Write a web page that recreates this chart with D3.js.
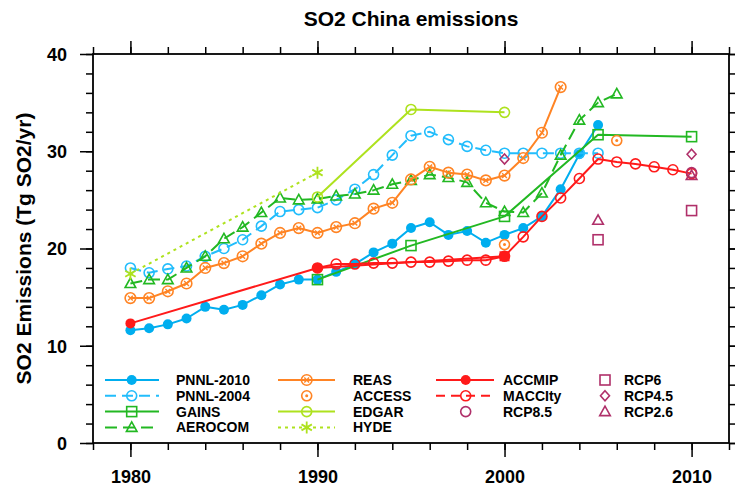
<!DOCTYPE html>
<html><head><meta charset="utf-8">
<script src="https://cdn.jsdelivr.net/npm/d3@7"></script>
<style>
body{margin:0;background:#fff}
svg{display:block}
text{font-family:"Liberation Sans",Arial,Helvetica,sans-serif;font-weight:bold;fill:#000}
</style>
</head><body>
<svg id="c" width="735" height="486"></svg>
<script>
// ---------------- data ----------------
const titleText = "SO2 China emissions";
const yAxisLabel = "SO2 Emissions (Tg SO2/yr)";
const xTickLabels = [1980, 1990, 2000, 2010];
const yTickLabels = [0, 10, 20, 30, 40];

const pnnl2010Years = [1980,1981,1982,1983,1984,1985,1986,1987,1988,1989,1990,1991,1992,1993,1994,1995,1996,1997,1998,1999,2000,2001,2002,2003,2004,2005];
const pnnl2010 = [11.6,11.8,12.2,12.8,14.0,13.7,14.2,15.2,16.3,16.8,16.8,17.6,18.4,19.6,20.5,22.1,22.7,21.4,21.8,20.6,21.4,22.1,23.3,26.1,29.7,32.7];

const pnnl2004Years = [1980,1981,1982,1983,1984,1985,1986,1987,1988,1989,1990,1991,1992,1993,1994,1995,1996,1997,1998,1999,2000,2001,2002,2003,2004,2005];
const pnnl2004 = [18.0,17.5,17.9,18.2,19.2,20.0,20.9,22.3,23.8,24.0,24.2,25.0,26.1,27.6,29.6,31.6,32.0,31.2,30.5,30.1,29.8,29.8,29.8,29.8,29.8,29.8];

const gainsYears = [1990,1995,2000,2005,2010];
const gains = [16.8,20.3,23.3,31.7,31.5];

const aerocomYears = [1980,1981,1982,1983,1984,1985,1986,1987,1988,1989,1990,1991,1992,1993,1994,1995,1996,1997,1998,1999,2000,2001,2002,2003,2004,2005,2006];
const aerocom = [16.4,16.8,16.8,18.0,19.2,21.0,22.2,23.7,25.2,25.0,25.1,25.4,25.6,26.0,26.6,27.0,27.6,27.3,26.8,24.7,23.8,23.7,25.7,29.6,33.2,35.0,35.9];

const reasYears = [1980,1981,1982,1983,1984,1985,1986,1987,1988,1989,1990,1991,1992,1993,1994,1995,1996,1997,1998,1999,2000,2001,2002,2003];
const reas = [14.9,14.9,15.6,16.4,18.0,18.5,19.2,20.5,21.6,22.1,21.6,22.2,22.6,24.1,24.7,27.1,28.4,27.8,27.6,27.0,27.5,29.3,31.9,36.6];

const accessYears = [2000,2006];
const access = [20.4,31.1];

const edgarYears = [1990,1995,2000];
const edgar = [25.3,34.3,34.0];

const hydeYears = [1980,1990];
const hyde = [17.4,27.8];

const accmipYears = [1980,1990,2000];
const accmip = [12.3,18.0,19.2];
const accmipMarkers = ["filledCircle","filledCircle","filledSquare"];

const maccityYears = [1990,1991,1992,1993,1994,1995,1996,1997,1998,1999,2000,2001,2002,2003,2004,2005,2006,2007,2008,2009,2010];
const maccity = [18.0,18.4,18.4,18.5,18.5,18.6,18.6,18.7,18.8,18.8,19.2,21.2,23.3,25.2,27.2,29.2,28.9,28.7,28.4,28.1,27.7];

const rcp85Years = [2010];
const rcp85 = [27.8];
const rcp6Years = [2005,2010];
const rcp6 = [20.9,23.9];
const rcp45Years = [2000,2010];
const rcp45 = [29.2,29.7];
const rcp26Years = [2005,2010];
const rcp26 = [22.9,27.5];

// ---------------- styles ----------------
const cBlue1 = "#00aeef", cBlue2 = "#22bdfc", cGreen = "#22b822", cOrange = "#ff8424",
      cYG = "#aee21e", cRed = "#ff1a1a", cRcp = "#b0306a";

const series = [
  {name:"PNNL-2010", years:pnnl2010Years, values:pnnl2010, color:cBlue1, line:true, dash:null, marker:"filledCircle"},
  {name:"PNNL-2004", years:pnnl2004Years, values:pnnl2004, color:cBlue2, line:true, dash:"11,6", marker:"circle"},
  {name:"GAINS", years:gainsYears, values:gains, color:cGreen, line:true, dash:null, marker:"square"},
  {name:"AEROCOM", years:aerocomYears, values:aerocom, color:cGreen, line:true, dash:"12,6", marker:"triangle"},
  {name:"REAS", years:reasYears, values:reas, color:cOrange, line:true, dash:null, marker:"reas"},
  {name:"ACCESS", years:accessYears, values:access, color:cOrange, line:false, dash:null, marker:"access"},
  {name:"EDGAR", years:edgarYears, values:edgar, color:cYG, line:true, dash:null, marker:"circle"},
  {name:"HYDE", years:hydeYears, values:hyde, color:cYG, line:true, dash:"3,4", marker:"asterisk"},
  {name:"ACCMIP", years:accmipYears, values:accmip, color:cRed, line:true, dash:null, marker:"filledCircle", markers:accmipMarkers},
  {name:"MACCIty", years:maccityYears, values:maccity, color:cRed, line:true, dash:null, legendDash:"9,6", marker:"circle"},
  {name:"RCP8.5", years:rcp85Years, values:rcp85, color:cRcp, line:false, marker:"circle"},
  {name:"RCP6", years:rcp6Years, values:rcp6, color:cRcp, line:false, marker:"square"},
  {name:"RCP4.5", years:rcp45Years, values:rcp45, color:cRcp, line:false, marker:"diamond"},
  {name:"RCP2.6", years:rcp26Years, values:rcp26, color:cRcp, line:false, marker:"triangle"}
];

// ---------------- chart ----------------
const svg = d3.select("#c");
const x = d3.scaleLinear().domain([1978, 2012]).range([93, 729]);
const y = d3.scaleLinear().domain([0, 40]).range([443, 54]);
const X0 = x.range()[0], X1 = x.range()[1], Y0 = y.range()[0], Y1 = y.range()[1];

function styleAxis(g){
  g.select(".domain").remove();
  g.selectAll(".tick line").attr("stroke","#000").attr("stroke-width",1.5);
}
const minorX = d3.range(1978, 2013, 2);
const minorY = d3.range(0, 41, 2);

// bottom
svg.append("g").attr("transform",`translate(0,${Y0})`)
  .call(d3.axisBottom(x).tickValues(minorX).tickSize(7).tickFormat("")).call(styleAxis);
const xb = svg.append("g").attr("transform",`translate(0,${Y0})`)
  .call(d3.axisBottom(x).tickValues(xTickLabels).tickSize(14).tickFormat(d3.format("d"))).call(styleAxis);
xb.selectAll("text").attr("y",40).attr("dy",0).style("font-size","18px").style("font-family",null);
// top
svg.append("g").attr("transform",`translate(0,${Y1})`)
  .call(d3.axisTop(x).tickValues(minorX).tickSize(7).tickFormat("")).call(styleAxis);
svg.append("g").attr("transform",`translate(0,${Y1})`)
  .call(d3.axisTop(x).tickValues(xTickLabels).tickSize(13).tickFormat("")).call(styleAxis);
// left
svg.append("g").attr("transform",`translate(${X0},0)`)
  .call(d3.axisLeft(y).tickValues(minorY).tickSize(7).tickFormat("")).call(styleAxis);
const yl = svg.append("g").attr("transform",`translate(${X0},0)`)
  .call(d3.axisLeft(y).tickValues(yTickLabels).tickSize(13).tickFormat(d3.format("d"))).call(styleAxis);
yl.selectAll("text").attr("x",-26).attr("dy","0.36em").style("font-size","18px").style("font-family",null);
// right
svg.append("g").attr("transform",`translate(${X1},0)`)
  .call(d3.axisRight(y).tickValues(minorY).tickSize(7).tickFormat("")).call(styleAxis);
svg.append("g").attr("transform",`translate(${X1},0)`)
  .call(d3.axisRight(y).tickValues(yTickLabels).tickSize(13).tickFormat("")).call(styleAxis);

// frame
svg.append("rect").attr("x",X0).attr("y",Y1).attr("width",X1-X0).attr("height",Y0-Y1)
  .attr("fill","none").attr("stroke","#000").attr("stroke-width",1.8);

// title & y label
svg.append("text").attr("x",(X0+X1)/2).attr("y",26).attr("text-anchor","middle")
  .style("font-size","21px").text(titleText);
svg.append("text").attr("transform",`translate(31,${(Y0+Y1)/2}) rotate(-90)`).attr("text-anchor","middle")
  .style("font-size","21px").text(yAxisLabel);

// markers
function drawMarker(g, type, cx, cy, color){
  const sw = 1.6;
  if(type==="filledCircle"){
    g.append("circle").attr("cx",cx).attr("cy",cy).attr("r",5).attr("fill",color);
  } else if(type==="circle"){
    g.append("circle").attr("cx",cx).attr("cy",cy).attr("r",5).attr("fill","none").attr("stroke",color).attr("stroke-width",sw);
  } else if(type==="filledSquare"){
    g.append("rect").attr("x",cx-5).attr("y",cy-5).attr("width",10).attr("height",10).attr("fill",color);
  } else if(type==="square"){
    g.append("rect").attr("x",cx-5).attr("y",cy-5).attr("width",10).attr("height",10).attr("fill","none").attr("stroke",color).attr("stroke-width",sw);
  } else if(type==="triangle"){
    g.append("path").attr("d",`M${cx},${cy-5.5}L${cx+5.3},${cy+4}L${cx-5.3},${cy+4}Z`)
      .attr("fill","none").attr("stroke",color).attr("stroke-width",sw);
  } else if(type==="diamond"){
    g.append("path").attr("d",`M${cx},${cy-5}L${cx+4.5},${cy}L${cx},${cy+5}L${cx-4.5},${cy}Z`)
      .attr("fill","none").attr("stroke",color).attr("stroke-width",sw);
  } else if(type==="reas"){
    g.append("circle").attr("cx",cx).attr("cy",cy).attr("r",5.3).attr("fill","none").attr("stroke",color).attr("stroke-width",sw);
    const d=2.4;
    g.append("path").attr("d",`M${cx-d},${cy-d}L${cx+d},${cy+d}M${cx+d},${cy-d}L${cx-d},${cy+d}`)
      .attr("stroke",color).attr("stroke-width",1.4);
  } else if(type==="access"){
    g.append("circle").attr("cx",cx).attr("cy",cy).attr("r",5).attr("fill","none").attr("stroke",color).attr("stroke-width",sw);
    g.append("circle").attr("cx",cx).attr("cy",cy).attr("r",1.5).attr("fill",color);
  } else if(type==="asterisk"){
    const r=6, a=r*Math.cos(Math.PI/6), b=r*Math.sin(Math.PI/6);
    g.append("path").attr("d",`M${cx},${cy-r}L${cx},${cy+r}M${cx-a},${cy-b}L${cx+a},${cy+b}M${cx-a},${cy+b}L${cx+a},${cy-b}`)
      .attr("stroke",color).attr("stroke-width",1.8);
  }
}

const plot = svg.append("g");
const lineGen = d3.line().x(d=>x(d[0])).y(d=>y(d[1]));
series.forEach(s=>{
  const g = plot.append("g");
  const pts = s.years.map((yr,i)=>[yr, s.values[i]]);
  if(s.line){
    g.append("path").attr("d",lineGen(pts)).attr("fill","none").attr("stroke",s.color)
      .attr("stroke-width",2).attr("stroke-dasharray",s.dash||null).attr("stroke-linejoin","round");
  }
  pts.forEach((p,i)=>drawMarker(g, s.markers ? s.markers[i] : s.marker, x(p[0]), y(p[1]), s.color));
});

// legend
const legendCols = [
  {lineX0:105, lineX1:159, mx:131.7, tx:176, names:["PNNL-2010","PNNL-2004","GAINS","AEROCOM"]},
  {lineX0:278, lineX1:335, mx:306.7, tx:353, names:["REAS","ACCESS","EDGAR","HYDE"]},
  {lineX0:436, lineX1:494, mx:465.7, tx:503, names:["ACCMIP","MACCIty","RCP8.5"]},
  {lineX0:null, lineX1:null, mx:605, tx:624, names:["RCP6","RCP4.5","RCP2.6"]}
];
const legendRowY = [380, 395.8, 411.6, 427.4];
const lg = svg.append("g");
legendCols.forEach(col=>{
  col.names.forEach((nm,i)=>{
    const s = series.find(d=>d.name===nm);
    const ry = legendRowY[i];
    if(s.line && col.lineX0!==null){
      lg.append("line").attr("x1",col.lineX0).attr("x2",col.lineX1).attr("y1",ry).attr("y2",ry)
        .attr("stroke",s.color).attr("stroke-width",2)
        .attr("stroke-dasharray",(s.legendDash||s.dash)||null);
    }
    drawMarker(lg, s.marker, col.mx, ry, s.color);
    lg.append("text").attr("x",col.tx).attr("y",ry).attr("dy","0.36em").style("font-size","14px").text(nm);
  });
});
</script>
</body></html>
